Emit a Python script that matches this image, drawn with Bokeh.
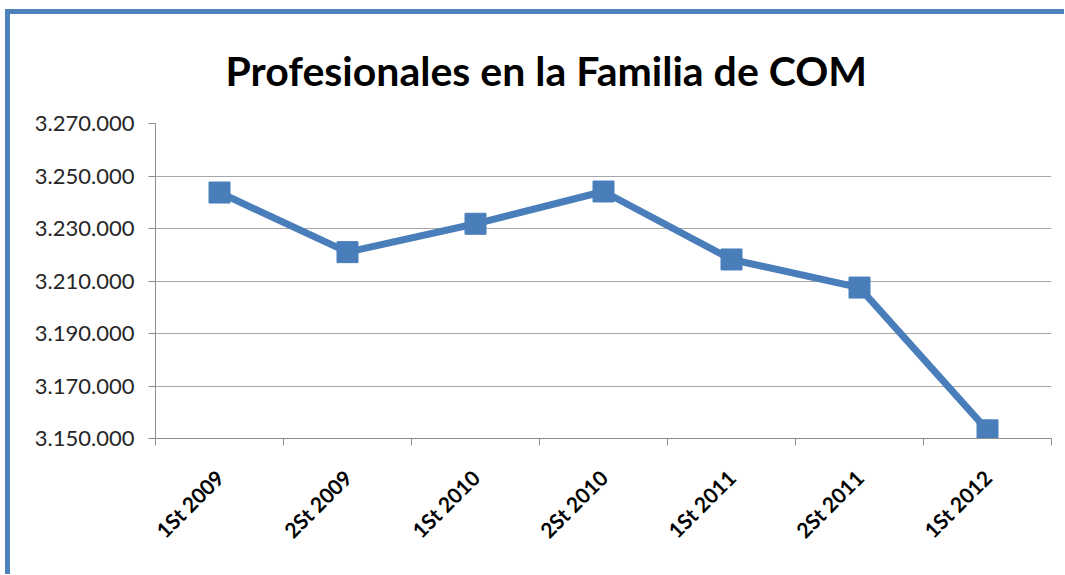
import math
from bokeh.plotting import figure
from bokeh.models import FixedTicker, Range1d, ColumnDataSource
from bokeh.embed import file_html
from bokeh.resources import INLINE

categories = ["1St 2009", "2St 2009", "1St 2010", "2St 2010", "1St 2011", "2St 2011", "1St 2012"]
values = [3243700, 3221000, 3231800, 3244100, 3218200, 3207500, 3153100]
y_ticks = [3150000, 3170000, 3190000, 3210000, 3230000, 3250000, 3270000]
y_tick_labels = ["3.150.000", "3.170.000", "3.190.000", "3.210.000", "3.230.000", "3.250.000", "3.270.000"]
title_text = "Profesionales en la Familia de COM"

xs = [i + 0.5 for i in range(len(categories))]
src = ColumnDataSource(dict(x=xs, y=values, cat=categories))

p = figure(frame_width=896, frame_height=315, output_backend="svg", toolbar_location=None,
           x_range=Range1d(0, len(categories)), y_range=Range1d(y_ticks[0], y_ticks[-1]),
           min_border_left=145, min_border_right=13, min_border_top=109, min_border_bottom=136)
p.styles = {"border-top": "5px solid #4F81BD", "border-left": "5px solid #4F81BD",
            "margin-left": "5px", "margin-top": "9px"}

p.title.text = title_text
p.title.text_font = "Lato"
p.title.text_font_style = "bold"
p.title.text_font_size = "41px"
p.title.align = "left"
p.title.offset = 70
p.title.standoff = 58
p.title.text_color = "#000000"

p.outline_line_color = None
p.background_fill_color = "white"
p.border_fill_color = "white"

p.line("x", "y", source=src, line_color="#4A7EBB", line_width=7)
p.scatter("x", "y", source=src, marker="square", size=21, fill_color="#4A7EBB", line_color="#4A7EBB")

# y axis
p.yaxis.ticker = FixedTicker(ticks=y_ticks)
p.yaxis.major_label_overrides = {t: l for t, l in zip(y_ticks, y_tick_labels)}
p.yaxis.major_label_text_font = "Lato"
p.yaxis.major_label_text_font_size = "22px"
p.yaxis.major_label_text_color = "#262626"
p.yaxis.major_label_standoff = 14
p.yaxis.major_tick_in = 0
p.yaxis.major_tick_out = 7
p.yaxis.minor_tick_line_color = None
p.yaxis.axis_line_color = "#8C8C8C"
p.yaxis.major_tick_line_color = "#8C8C8C"

# x axis
p.xaxis.ticker = FixedTicker(ticks=xs, minor_ticks=list(range(len(categories) + 1)))
p.xaxis.major_label_overrides = {x: c for x, c in zip(xs, categories)}
p.xaxis.major_label_orientation = math.pi / 4
p.xaxis.major_label_text_font = "Lato"
p.xaxis.major_label_text_font_style = "bold"
p.xaxis.major_label_text_font_size = "21px"
p.xaxis.major_label_text_color = "#000000"
p.xaxis.major_label_standoff = 28
p.xaxis.major_tick_line_color = None
p.xaxis.minor_tick_in = 0
p.xaxis.minor_tick_out = 7
p.xaxis.minor_tick_line_color = "#8C8C8C"
p.xaxis.axis_line_color = "#8C8C8C"

p.xgrid.grid_line_color = None
p.ygrid.ticker = FixedTicker(ticks=y_ticks)
p.ygrid.grid_line_color = "#A6A6A6"
p.ygrid.grid_line_width = 1

open("out.html", "w").write(file_html(p, INLINE))
